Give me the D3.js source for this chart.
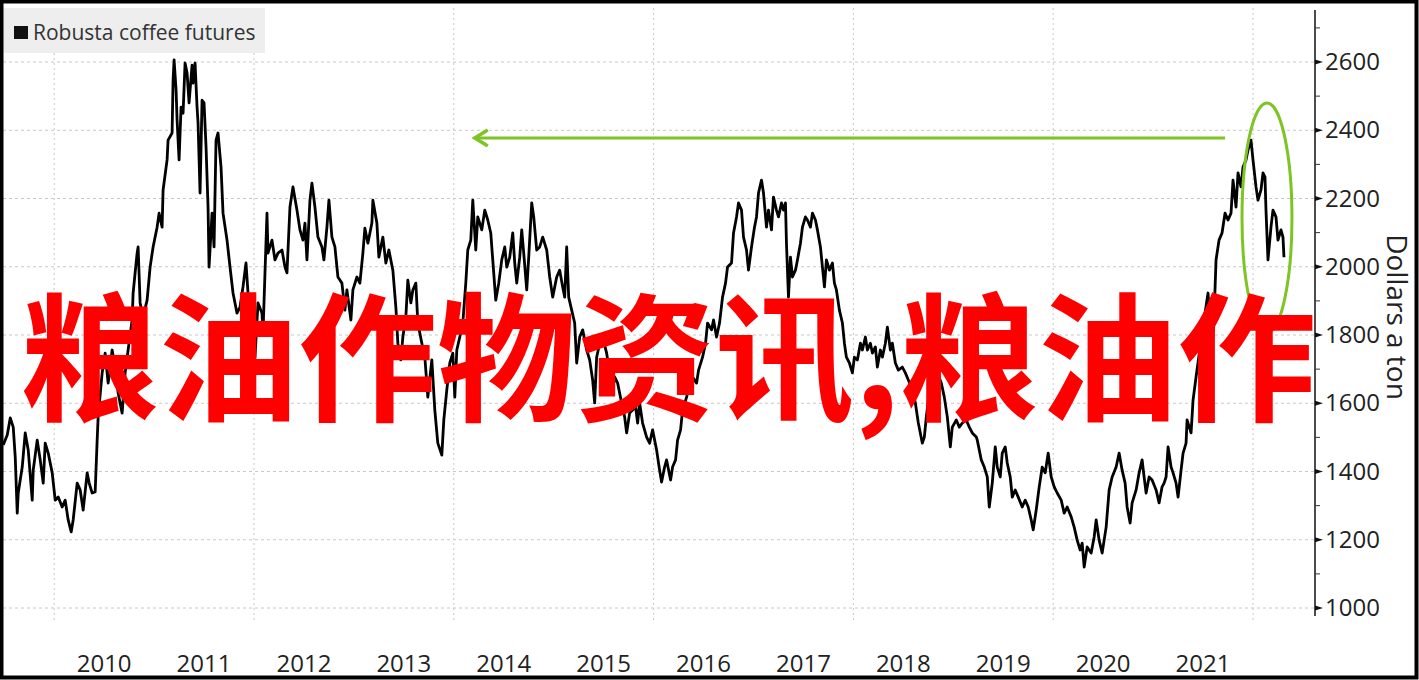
<!DOCTYPE html>
<html><head><meta charset="utf-8">
<script src="https://cdn.jsdelivr.net/npm/d3@7"></script>
<style>html,body{margin:0;padding:0;background:#fff;}svg{display:block;}</style>
</head><body>
<svg id="c" width="1419" height="680"></svg>
<script>
// ---- data (decimal year, price in dollars a ton) ----
const years = [2009.49,2009.53,2009.56,2009.59,2009.61,2009.63,2009.64,2009.68,2009.71,2009.74,2009.78,2009.79,2009.83,2009.86,2009.89,2009.91,2009.94,2009.98,2010.01,2010.04,2010.08,2010.11,2010.14,2010.17,2010.19,2010.23,2010.26,2010.29,2010.33,2010.35,2010.38,2010.41,2010.43,2010.44,2010.48,2010.51,2010.54,2010.58,2010.61,2010.64,2010.68,2010.71,2010.74,2010.78,2010.79,2010.81,2010.83,2010.84,2010.86,2010.89,2010.93,2010.96,2010.99,2011.03,2011.05,2011.08,2011.09,2011.13,2011.14,2011.18,2011.19,2011.20,2011.22,2011.23,2011.25,2011.27,2011.29,2011.31,2011.33,2011.35,2011.38,2011.39,2011.41,2011.43,2011.44,2011.46,2011.48,2011.50,2011.52,2011.54,2011.55,2011.58,2011.60,2011.62,2011.64,2011.67,2011.69,2011.73,2011.76,2011.79,2011.83,2011.86,2011.89,2011.92,2011.94,2011.98,2012.01,2012.04,2012.08,2012.09,2012.11,2012.13,2012.14,2012.18,2012.21,2012.24,2012.28,2012.31,2012.33,2012.36,2012.39,2012.43,2012.46,2012.49,2012.51,2012.53,2012.56,2012.58,2012.61,2012.64,2012.68,2012.70,2012.73,2012.75,2012.78,2012.81,2012.84,2012.88,2012.91,2012.93,2012.97,2012.99,2013.03,2013.06,2013.09,2013.11,2013.14,2013.18,2013.19,2013.23,2013.25,2013.29,2013.32,2013.35,2013.39,2013.42,2013.44,2013.47,2013.49,2013.52,2013.54,2013.57,2013.59,2013.62,2013.64,2013.68,2013.71,2013.74,2013.78,2013.81,2013.84,2013.88,2013.90,2013.93,2013.96,2013.99,2014.01,2014.03,2014.06,2014.09,2014.12,2014.14,2014.17,2014.19,2014.22,2014.24,2014.28,2014.31,2014.34,2014.37,2014.39,2014.42,2014.45,2014.48,2014.51,2014.53,2014.56,2014.59,2014.61,2014.63,2014.66,2014.68,2014.70,2014.73,2014.75,2014.78,2014.80,2014.83,2014.86,2014.89,2014.93,2014.96,2014.99,2015.03,2015.06,2015.09,2015.11,2015.13,2015.15,2015.18,2015.21,2015.23,2015.26,2015.29,2015.33,2015.36,2015.39,2015.41,2015.43,2015.46,2015.49,2015.53,2015.56,2015.59,2015.61,2015.64,2015.68,2015.71,2015.73,2015.76,2015.79,2015.82,2015.84,2015.86,2015.89,2015.93,2015.96,2015.99,2016.03,2016.06,2016.08,2016.11,2016.13,2016.17,2016.19,2016.22,2016.24,2016.27,2016.29,2016.33,2016.36,2016.39,2016.43,2016.45,2016.49,2016.52,2016.54,2016.58,2016.60,2016.63,2016.66,2016.69,2016.72,2016.74,2016.78,2016.80,2016.83,2016.85,2016.88,2016.90,2016.93,2016.95,2016.98,2017.01,2017.03,2017.05,2017.08,2017.10,2017.13,2017.15,2017.18,2017.20,2017.23,2017.25,2017.28,2017.30,2017.32,2017.33,2017.35,2017.37,2017.39,2017.42,2017.44,2017.47,2017.49,2017.52,2017.54,2017.57,2017.59,2017.62,2017.64,2017.67,2017.69,2017.71,2017.73,2017.76,2017.79,2017.81,2017.83,2017.86,2017.89,2017.91,2017.93,2017.96,2017.99,2018.01,2018.04,2018.07,2018.09,2018.12,2018.14,2018.17,2018.19,2018.22,2018.24,2018.27,2018.29,2018.32,2018.34,2018.37,2018.39,2018.42,2018.45,2018.49,2018.52,2018.55,2018.59,2018.62,2018.65,2018.69,2018.71,2018.73,2018.75,2018.78,2018.81,2018.84,2018.88,2018.91,2018.94,2018.97,2018.99,2019.03,2019.06,2019.09,2019.13,2019.16,2019.19,2019.23,2019.24,2019.28,2019.31,2019.34,2019.36,2019.39,2019.42,2019.44,2019.47,2019.49,2019.52,2019.54,2019.57,2019.59,2019.62,2019.65,2019.69,2019.72,2019.75,2019.78,2019.80,2019.83,2019.86,2019.89,2019.92,2019.95,2019.98,2020.01,2020.04,2020.08,2020.11,2020.14,2020.18,2020.21,2020.24,2020.27,2020.29,2020.31,2020.34,2020.38,2020.41,2020.43,2020.46,2020.49,2020.51,2020.53,2020.56,2020.59,2020.63,2020.66,2020.69,2020.72,2020.74,2020.77,2020.79,2020.83,2020.86,2020.89,2020.91,2020.93,2020.96,2020.99,2021.03,2021.06,2021.09,2021.11,2021.13,2021.15,2021.18,2021.20,2021.23,2021.25,2021.28,2021.30,2021.33,2021.34,2021.38,2021.40,2021.43,2021.49,2021.55,2021.59,2021.61,2021.63,2021.66,2021.69,2021.72,2021.75,2021.78,2021.80,2021.83,2021.85,2021.88,2021.90,2021.93,2021.95,2021.98,2022.00,2022.03,2022.05,2022.08,2022.10,2022.12,2022.13,2022.15,2022.18,2022.20,2022.23,2022.25,2022.28,2022.30,2022.31];
const prices = [1478,1507,1557,1530,1442,1278,1337,1413,1513,1463,1316,1404,1492,1434,1366,1483,1454,1396,1316,1325,1296,1316,1258,1223,1258,1366,1346,1287,1396,1366,1337,1340,1492,1560,1689,1747,1659,1756,1706,1630,1571,1689,1756,1844,1923,1982,2040,2058,1894,1853,1902,1999,2058,2116,2157,2116,2225,2313,2371,2392,2547,2606,2518,2430,2313,2468,2450,2597,2568,2480,2591,2538,2597,2468,2421,2216,2488,2480,2351,2175,1999,2157,2058,2371,2392,2292,2157,2078,1999,1923,1864,1882,1941,2011,1923,1882,1735,1894,1864,1806,1982,2157,2040,2078,2020,2040,2049,1999,1982,2175,2234,2166,2108,2078,2128,2020,2195,2245,2175,2087,2058,2020,2116,2195,2087,2058,1970,1952,1873,1932,1844,1932,1970,1952,2040,2113,2069,2128,2195,2128,2028,2087,2011,2049,1990,1882,1776,1727,1794,1853,1961,1894,1932,1952,1835,1776,1735,1618,1727,1580,1483,1448,1551,1639,1718,1747,1618,1756,1794,1835,1952,2049,2078,2195,2049,2146,2108,2166,2137,2099,2020,1902,1952,2020,2058,1999,2028,2099,2011,1952,2028,2108,2040,1932,2028,2187,2146,2049,2058,2087,2049,1970,1911,1970,1990,1941,1911,2058,1911,1873,1835,1718,1794,1815,1756,1727,1668,1601,1735,1776,1794,1747,1689,1639,1677,1659,1601,1560,1513,1571,1580,1589,1542,1601,1542,1501,1483,1522,1463,1404,1369,1413,1434,1375,1413,1434,1492,1522,1580,1618,1659,1677,1659,1697,1735,1776,1835,1815,1844,1794,1835,1911,1952,1999,2011,2099,2146,2187,2166,2087,2049,1990,2058,2116,2146,2216,2254,2216,2116,2166,2108,2204,2166,2146,2187,2166,2187,2069,1911,2028,1970,1990,2020,2069,2116,2146,2137,2116,2157,2137,2108,2058,1999,1941,2020,1990,2011,1952,1932,1873,1835,1776,1735,1718,1689,1735,1727,1776,1756,1794,1756,1776,1747,1765,1706,1756,1735,1776,1823,1756,1776,1718,1697,1706,1689,1668,1639,1601,1542,1483,1501,1560,1609,1677,1697,1689,1659,1618,1560,1472,1530,1551,1530,1542,1551,1530,1513,1501,1492,1434,1413,1384,1296,1366,1472,1413,1384,1454,1472,1425,1384,1325,1346,1325,1296,1316,1296,1258,1229,1287,1355,1413,1396,1454,1384,1355,1337,1316,1278,1296,1267,1237,1199,1170,1190,1120,1179,1161,1208,1258,1199,1161,1199,1237,1346,1384,1413,1454,1404,1366,1296,1249,1308,1346,1396,1434,1384,1337,1384,1375,1346,1308,1355,1366,1384,1472,1413,1396,1366,1325,1404,1454,1483,1551,1513,1609,1677,1806,1923,1756,1853,2020,2078,2099,2157,2137,2157,2254,2175,2275,2234,2292,2313,2342,2371,2313,2234,2195,2225,2275,2263,2166,2020,2116,2166,2146,2078,2108,2087,2028];
const yTicks = [1000,1200,1400,1600,1800,2000,2200,2400,2600];
const yMinorTicks = [1100,1300,1500,1700,1900,2100,2300,2500,2700];
const xLabelYears = [2010,2011,2012,2013,2014,2015,2016,2017,2018,2019,2020,2021];
const xGridYears = [2010,2012,2014,2016,2018,2020,2022];
const seriesName = "Robusta coffee futures";
const axisTitle = "Dollars a ton";
const overlayText = "粮油作物资讯,粮油作";
const arrowFrom = [2021.72, 2377];   // arrow tail (year, price)
const arrowTo = [2014.21, 2377];    // arrow head
const ellipseSpan = [2021.89, 2022.39, 1806, 2480]; // x0,x1,yLow,yHigh

// ---- layout ----
const W = 1419, H = 680;
const svg = d3.select("#c");
const x = d3.scaleLinear().domain([2012, 2022]).range([254, 1253]);
const y = d3.scaleLinear().domain([1000, 2600]).range([608, 62]);
const axisX = 1315, plotLeft = 3;
const font = "'Open Sans', 'DejaVu Sans', sans-serif";

svg.append("rect").attr("width", W).attr("height", H).attr("fill", "#fff");

// vertical grid (dotted)
svg.append("g").selectAll("line").data(xGridYears).join("line")
  .attr("x1", d => x(d)).attr("x2", d => x(d)).attr("y1", 8).attr("y2", 620)
  .attr("stroke", "#c8c8c8").attr("stroke-width", 1).attr("stroke-dasharray", "2,3");

// horizontal grid (dashed)
svg.append("g").selectAll("line").data(yTicks).join("line")
  .attr("x1", plotLeft).attr("x2", axisX).attr("y1", d => y(d)).attr("y2", d => y(d))
  .attr("stroke", "#c8c8c8").attr("stroke-width", 1).attr("stroke-dasharray", "3,3");

// legend box
svg.append("rect").attr("x", 3).attr("y", 8).attr("width", 262).attr("height", 45).attr("fill", "#eeeeee");
svg.append("rect").attr("x", 14).attr("y", 26).attr("width", 14).attr("height", 13).attr("fill", "#111");
svg.append("text").attr("x", 33).attr("y", 40).attr("font-family", font).attr("font-size", 21)
  .attr("fill", "#333").text(seriesName);

// price line
const line = d3.line().x((d, i) => x(years[i])).y(d => y(d));
svg.append("path").datum(prices).attr("d", line).attr("fill", "none")
  .attr("stroke", "#000").attr("stroke-width", 2.8).attr("stroke-linejoin", "round");

// right axis
const yAxis = d3.axisRight(y).tickValues(yTicks).tickSize(0).tickPadding(10).tickFormat(d3.format("d"));
const ag = svg.append("g").attr("transform", `translate(${axisX},0)`).call(yAxis);
ag.select(".domain").remove();
ag.selectAll("text").attr("font-family", font).attr("font-size", 24).attr("fill", "#222");
svg.append("line").attr("x1", axisX).attr("x2", axisX).attr("y1", 10).attr("y2", 616)
  .attr("stroke", "#111").attr("stroke-width", 1.5);
svg.append("g").selectAll("path").data(yTicks).join("path")
  .attr("d", d => `M${axisX},${y(d) - 2.5}L${axisX + 8},${y(d)}L${axisX},${y(d) + 2.5}Z`)
  .attr("fill", "#111");
svg.append("g").selectAll("line").data(yMinorTicks).join("line")
  .attr("x1", axisX).attr("x2", axisX + 5).attr("y1", d => y(d)).attr("y2", d => y(d))
  .attr("stroke", "#333").attr("stroke-width", 1);

// axis title
svg.append("text").attr("transform", `translate(1387,${317}) rotate(90)`)
  .attr("text-anchor", "middle").attr("font-family", font).attr("font-size", 28)
  .attr("fill", "#222").text(axisTitle);

// x labels
svg.append("g").selectAll("text").data(xLabelYears).join("text")
  .attr("x", d => x(d + 0.5)).attr("y", 672).attr("text-anchor", "middle")
  .attr("font-family", font).attr("font-size", 24).attr("fill", "#222").text(d => d);

// green annotations
const green = "#7dc424";
svg.append("line").attr("x1", x(arrowFrom[0])).attr("x2", x(arrowTo[0]) + 2)
  .attr("y1", y(arrowFrom[1])).attr("y2", y(arrowTo[1]))
  .attr("stroke", green).attr("stroke-width", 3);
const ax = x(arrowTo[0]), ay = y(arrowTo[1]);
svg.append("path").attr("d", `M${ax + 13},${ay - 8}L${ax},${ay}L${ax + 13},${ay + 8}`)
  .attr("fill", "none").attr("stroke", green).attr("stroke-width", 3.5).attr("stroke-linejoin", "miter");
const ecx = (x(ellipseSpan[0]) + x(ellipseSpan[1])) / 2, erx = (x(ellipseSpan[1]) - x(ellipseSpan[0])) / 2;
const ecy = (y(ellipseSpan[2]) + y(ellipseSpan[3])) / 2, ery = (y(ellipseSpan[2]) - y(ellipseSpan[3])) / 2;
svg.append("ellipse").attr("cx", ecx).attr("cy", ecy).attr("rx", erx).attr("ry", ery)
  .attr("fill", "none").attr("stroke", green).attr("stroke-width", 3);

// overlay text
svg.append("text").attr("x", 20).attr("y", 410)
  .attr("font-family", "'Noto Sans CJK SC', sans-serif").attr("font-weight", 700)
  .attr("font-size", 139).attr("fill", "#ff0000").text(overlayText);

// frame
svg.append("rect").attr("x", 1.5).attr("y", 1.5).attr("width", W - 4).attr("height", H - 4)
  .attr("fill", "none").attr("stroke", "#000").attr("stroke-width", 4);
</script>
</body></html>
